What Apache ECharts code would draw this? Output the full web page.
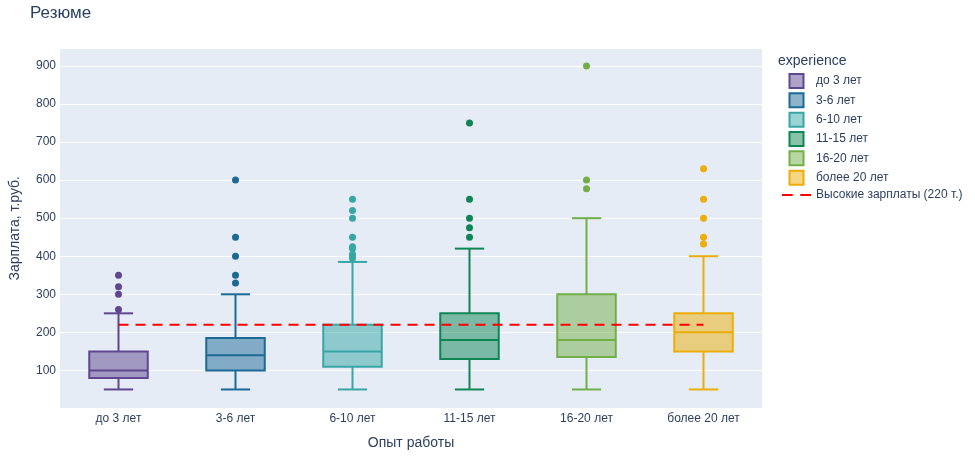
<!DOCTYPE html>
<html>
<head>
<meta charset="utf-8">
<script src="https://cdn.jsdelivr.net/npm/echarts@6/dist/echarts.min.js"></script>
<style>html,body{margin:0;padding:0;background:#fff}#c{width:975px;height:457px}</style>
</head>
<body>
<div id="c"></div>
<script>
var categories = ['до 3 лет', '3-6 лет', '6-10 лет', '11-15 лет', '16-20 лет', 'более 20 лет'];
var whiskerLow = [50, 50, 50, 50, 50, 50];
var q1 = [80, 100, 110, 130, 135, 150];
var median = [100, 140, 150, 180, 180, 200];
var q3 = [150, 185, 220, 250, 300, 250];
var whiskerHigh = [250, 300, 385, 420, 500, 400];
var outliers = [
  [260, 300, 320, 350],
  [330, 350, 400, 450, 600],
  [395, 400, 405, 420, 425, 450, 500, 520, 550],
  [450, 475, 500, 550, 750],
  [577, 600, 900],
  [432, 450, 500, 550, 630]
];
var threshold = [220, 220, 220, 220, 220, 220];
var thresholdName = 'Высокие зарплаты (220 т.)';
var colors = ['#5F4690', '#1D6996', '#38A6A5', '#0F8554', '#73AF48', '#EDAD08'];

function fade(hex, a) {
  var r = parseInt(hex.substr(1, 2), 16), g = parseInt(hex.substr(3, 2), 16), b = parseInt(hex.substr(5, 2), 16);
  return 'rgba(' + r + ',' + g + ',' + b + ',' + a + ')';
}

var txt = '#2a3f5f';
var font = 'Arial, "Liberation Sans", sans-serif';
var series = [];
var legendData = [];

categories.forEach(function (name, i) {
  var col = colors[i];
  var fill = fade(col, 0.5);
  series.push({
    name: name,
    type: 'custom',
    itemStyle: { color: fill, borderColor: col, borderWidth: 2 },
    encode: { x: 0, y: [1, 2, 3, 4, 5] },
    data: [[i, whiskerLow[i], q1[i], median[i], q3[i], whiskerHigh[i]]],
    renderItem: function (params, api) {
      var x = api.value(0);
      var pMin = api.coord([x, api.value(1)]);
      var pQ1 = api.coord([x, api.value(2)]);
      var pMed = api.coord([x, api.value(3)]);
      var pQ3 = api.coord([x, api.value(4)]);
      var pMax = api.coord([x, api.value(5)]);
      var cx = pMed[0];
      var bw = api.size([1, 0])[0] * 0.5;
      var cw = bw * 0.5;
      var ls = { stroke: col, lineWidth: 2, fill: null };
      return {
        type: 'group',
        children: [
          { type: 'line', shape: { x1: cx, y1: pMin[1], x2: cx, y2: pQ1[1] }, style: ls },
          { type: 'line', shape: { x1: cx, y1: pQ3[1], x2: cx, y2: pMax[1] }, style: ls },
          { type: 'line', shape: { x1: cx - cw / 2, y1: pMin[1], x2: cx + cw / 2, y2: pMin[1] }, style: ls },
          { type: 'line', shape: { x1: cx - cw / 2, y1: pMax[1], x2: cx + cw / 2, y2: pMax[1] }, style: ls },
          { type: 'rect', shape: { x: cx - bw / 2, y: pQ3[1], width: bw, height: pQ1[1] - pQ3[1] }, style: { fill: fill, stroke: col, lineWidth: 2 } },
          { type: 'line', shape: { x1: cx - bw / 2, y1: pMed[1], x2: cx + bw / 2, y2: pMed[1] }, style: ls }
        ]
      };
    },
    z: 2
  });
  series.push({
    name: name,
    type: 'scatter',
    symbolSize: 7,
    itemStyle: { color: col, opacity: 1 },
    data: outliers[i].map(function (v) { return [i, v]; }),
    z: 3
  });
  legendData.push({
    name: name,
    icon: 'path://M0,0h10v10h-10z',
    itemStyle: { color: fade(col, 0.5), borderColor: col, borderWidth: 2 }
  });
});

series.push({
  name: thresholdName,
  type: 'line',
  data: threshold,
  symbol: 'none',
  lineStyle: { color: '#ff0000', width: 2, type: [10, 7] },
  itemStyle: { color: '#ff0000' },
  z: 4
});
legendData.push({
  name: thresholdName,
  icon: 'path://M0,0h10v2h-10z M17,0h10v2h-10z',
  itemStyle: { color: '#ff0000', borderWidth: 0 }
});

var chart = echarts.init(document.getElementById('c'), null, { renderer: 'canvas' });
chart.setOption({
  backgroundColor: '#ffffff',
  animation: false,
  textStyle: { fontFamily: font, color: txt },
  title: {
    text: 'Резюме', left: 25, top: 0,
    textStyle: { fontSize: 17, fontWeight: 'normal', color: txt, fontFamily: font }
  },
  graphic: [{
    type: 'text', left: 778, top: 54,
    style: { text: 'experience', fontSize: 14, fill: txt, fontFamily: font }
  }],
  legend: {
    orient: 'vertical', left: 777, top: 68,
    itemWidth: 29, itemHeight: 14, itemGap: 3.33,
    symbolKeepAspect: true,
    textStyle: { fontSize: 12, color: txt, fontFamily: font },
    data: legendData
  },
  grid: {
    left: 60, right: 213, top: 48, bottom: 48.5,
    show: true, backgroundColor: '#E5ECF6', borderWidth: 0
  },
  xAxis: {
    type: 'category', data: categories, boundaryGap: true,
    name: 'Опыт работы', nameLocation: 'middle', nameGap: 28,
    nameTextStyle: { fontSize: 14, color: txt },
    axisLine: { show: false }, axisTick: { show: false },
    axisLabel: { color: txt, fontSize: 12, margin: 4 },
    splitLine: { show: false }
  },
  yAxis: {
    type: 'value', min: 0, max: 947, interval: 100,
    name: 'Зарплата, т.руб.', nameLocation: 'middle', nameGap: 38,
    nameTextStyle: { fontSize: 14, color: txt },
    axisLine: { show: false }, axisTick: { show: false },
    axisLabel: {
      color: txt, fontSize: 12, margin: 4,
      formatter: function (v) { return (v > 0 && v % 100 === 0) ? String(v) : ''; }
    },
    splitLine: { lineStyle: { color: '#ffffff', width: 1 } }
  },
  series: series
});
</script>
</body>
</html>
